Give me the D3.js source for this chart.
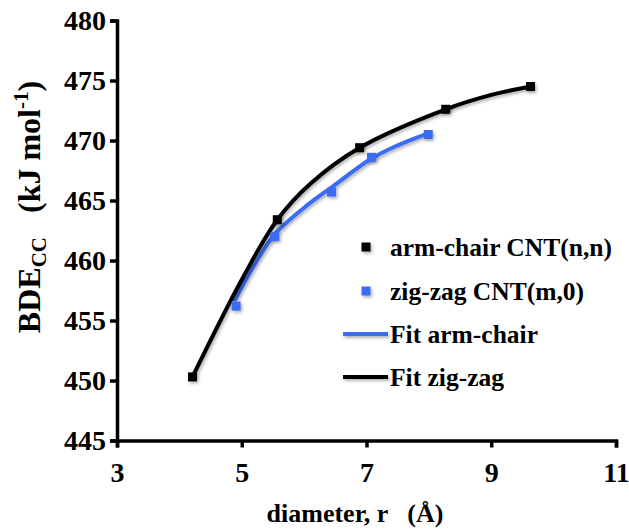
<!DOCTYPE html>
<html><head><meta charset="utf-8">
<script src="https://cdn.jsdelivr.net/npm/d3@7"></script>
<style>
html,body{margin:0;padding:0;background:#fff;}
text{font-family:"Liberation Serif","Times New Roman",serif;font-weight:bold;fill:#000;}
</style></head>
<body>
<svg id="chart" width="629" height="529"></svg>
<script>
// Data
const xTicks = [3, 5, 7, 9, 11];
const yTicks = [445, 450, 455, 460, 465, 470, 475, 480];
const armchairX = [4.21, 5.57, 6.89, 8.27, 9.63];
const armchairY = [450.3, 463.4, 469.4, 472.6, 474.5];
const zigzagX = [4.91, 5.53, 6.44, 7.08, 7.99];
const zigzagY = [456.2, 462.0, 465.7, 468.6, 470.5];
// fitted curves
const fitArmX = [4.88, 5.2, 5.53, 6.0, 6.44, 7.08, 7.5, 7.99];
const fitArmY = [456.6, 459.6, 462.2, 464.4, 466.1, 468.5, 469.6, 470.6];
const fitZigX = [4.21, 5.0, 5.57, 6.1, 6.89, 8.27, 9.0, 9.63];
const fitZigY = [450.3, 458.4, 463.4, 466.4, 469.4, 472.6, 473.8, 474.5];
const legendLabels = ["arm-chair CNT(n,n)", "zig-zag CNT(m,0)", "Fit arm-chair", "Fit zig-zag"];

const BLUE = "#3a6cf6";
const svg = d3.select("#chart");
const x = d3.scaleLinear().domain([3, 11]).range([117, 616]);
const y = d3.scaleLinear().domain([445, 480]).range([440.5, 20.5]);

const defs = svg.append("defs");
const f = defs.append("filter").attr("id", "sh").attr("filterUnits", "userSpaceOnUse")
  .attr("x", 0).attr("y", 0).attr("width", 629).attr("height", 529);
f.append("feDropShadow").attr("dx", 1.5).attr("dy", 2).attr("stdDeviation", 1.5).attr("flood-color", "#000").attr("flood-opacity", 0.3);

// axes
const xAxis = svg.append("g").attr("transform", `translate(0,${y(445)})`)
  .call(d3.axisBottom(x).tickValues(xTicks).tickSize(7).tickPadding(15).tickFormat(d3.format("d")));
const yAxis = svg.append("g").attr("transform", `translate(${x(3)},0)`)
  .call(d3.axisLeft(y).tickValues(yTicks).tickSize(7).tickPadding(4).tickFormat(d3.format("d")));
[xAxis, yAxis].forEach(g => {
  g.select(".domain").attr("stroke", "#000").attr("stroke-width", 3.5);
  g.selectAll(".tick line").attr("stroke", "#000").attr("stroke-width", 3.5);
  g.selectAll(".tick text").style("font-family", '"Liberation Serif",serif').style("font-weight", "bold").style("font-size", "28px").attr("fill", "#000");
});

// fits
const line = d3.line().x(d => x(d[0])).y(d => y(d[1])).curve(d3.curveCatmullRom);
svg.append("path").datum(d3.zip(fitArmX, fitArmY)).attr("d", line)
  .attr("fill", "none").attr("stroke", BLUE).attr("stroke-width", 4).attr("filter", "url(#sh)");
svg.append("path").datum(d3.zip(fitZigX, fitZigY)).attr("d", line)
  .attr("fill", "none").attr("stroke", "#000").attr("stroke-width", 4).attr("filter", "url(#sh)");

// markers
const S = 9;
svg.append("g").selectAll("rect").data(d3.zip(zigzagX, zigzagY)).join("rect")
  .attr("x", d => x(d[0]) - S / 2).attr("y", d => y(d[1]) - S / 2).attr("width", S).attr("height", S)
  .attr("fill", BLUE).attr("filter", "url(#sh)");
svg.append("g").selectAll("rect").data(d3.zip(armchairX, armchairY)).join("rect")
  .attr("x", d => x(d[0]) - S / 2).attr("y", d => y(d[1]) - S / 2).attr("width", S).attr("height", S)
  .attr("fill", "#000").attr("filter", "url(#sh)");

// legend
const legY = [247, 291, 334, 377];
const leg = svg.append("g");
leg.append("rect").attr("x", 366 - S / 2).attr("y", legY[0] - S / 2).attr("width", S).attr("height", S).attr("fill", "#000").attr("filter", "url(#sh)");
leg.append("rect").attr("x", 366 - S / 2).attr("y", legY[1] - S / 2).attr("width", S).attr("height", S).attr("fill", BLUE).attr("filter", "url(#sh)");
leg.append("rect").attr("x", 343).attr("width", 45).attr("y", legY[2] - 2).attr("height", 4).attr("fill", BLUE).attr("filter", "url(#sh)");
leg.append("rect").attr("x", 343).attr("width", 45).attr("y", legY[3] - 2).attr("height", 4).attr("fill", "#000").attr("filter", "url(#sh)");
legendLabels.forEach((t, i) => {
  leg.append("text").attr("x", 390).attr("y", legY[i]).attr("dy", "0.35em")
    .style("font-size", "25.5px").text(t);
});

// axis titles
svg.append("text").attr("x", 355).attr("y", 522).attr("text-anchor", "middle")
  .style("font-size", "26px").style("white-space", "pre")
  .text("diameter, r   (Å)");
const yt = svg.append("text").attr("transform", "translate(40,207) rotate(-90)")
  .attr("text-anchor", "middle").style("font-size", "32px").style("white-space", "pre");
yt.append("tspan").text("BDE");
yt.append("tspan").attr("dy", 6).style("font-size", "21px").text("CC");
yt.append("tspan").attr("dy", -6).text("   (kJ mol");
yt.append("tspan").attr("dy", -12).style("font-size", "21px").text("-1");
yt.append("tspan").attr("dy", 12).text(")");
</script>
</body></html>
